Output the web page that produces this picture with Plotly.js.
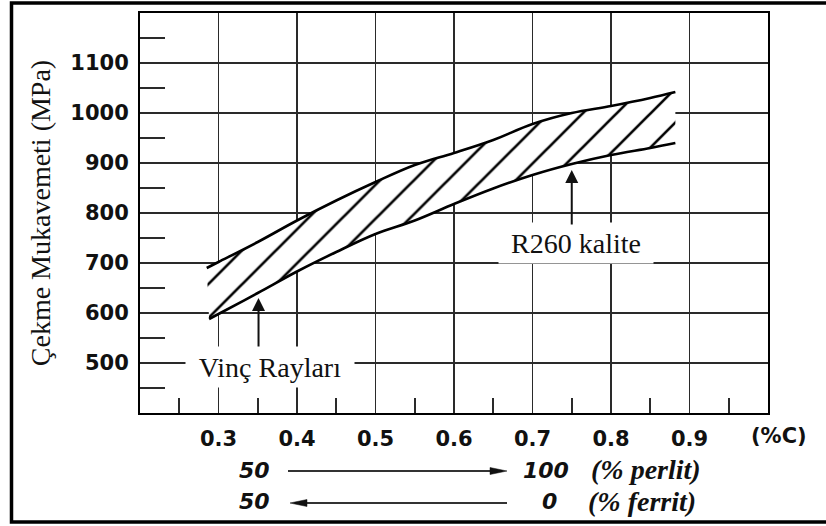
<!DOCTYPE html>
<html>
<head>
<meta charset="utf-8">
<script src="https://cdn.plot.ly/plotly-3.0.1.min.js"></script>
<style>html,body{margin:0;padding:0;background:#fff;}#chart{width:826px;height:526px;}</style>
</head>
<body>
<div id="chart"></div>
<script>
// ---- data ----
const upperX = [0.285, 0.30, 0.35, 0.40, 0.45, 0.50, 0.55, 0.60, 0.65, 0.70, 0.75, 0.80, 0.85, 0.882];
const upperY = [690, 702, 742, 785, 825, 862, 896, 920, 946, 978, 1000, 1014, 1030, 1042];
const lowerX = [0.288, 0.30, 0.35, 0.40, 0.45, 0.50, 0.55, 0.60, 0.65, 0.70, 0.75, 0.80, 0.85, 0.882];
const lowerY = [588, 598, 640, 683, 722, 758, 785, 818, 849, 876, 898, 916, 930, 940];
const xTickVals = [0.3, 0.4, 0.5, 0.6, 0.7, 0.8, 0.9];
const xTickText = ['0.3', '0.4', '0.5', '0.6', '0.7', '0.8', '0.9'];
const xMinorVals = [0.25, 0.35, 0.45, 0.55, 0.65, 0.75, 0.85, 0.95];
const yTickVals = [500, 600, 700, 800, 900, 1000, 1100];
const yTickText = ['500', '600', '700', '800', '900', '1000', '1100'];
const yMinorVals = [450, 550, 650, 750, 850, 950, 1050, 1150];
const perlitRow = ['50', '100', '(% perlit)'];
const ferritRow = ['50', '0', '(% ferrit)'];
const vincLabel = 'Vinç Rayları';
const vincPoint = [0.351, 630];
const r260Label = 'R260 kalite';
const r260Point = [0.750, 886];

// ---- layout geometry ----
const W = 826, H = 526;
const M = {l: 140, r: 58, t: 13, b: 113};
const PW = W - M.l - M.r, PH = H - M.t - M.b;
const px = x => (x - M.l) / PW;      // pixel -> paper x
const py = y => (M.t + PH - y) / PH; // pixel -> paper y

const ink = '#111';
const sansBold = {family: 'DejaVu Sans', size: 21, color: ink, weight: 'bold'};
const sansBI = {family: 'DejaVu Sans', size: 22, color: ink, weight: 'bold', style: 'italic'};
const serifBI = {family: 'Liberation Serif, Times New Roman, serif', size: 28, color: ink, weight: 'bold', style: 'italic'};

const band = {
  x: upperX.concat(lowerX.slice().reverse()),
  y: upperY.concat(lowerY.slice().reverse()),
  type: 'scatter', mode: 'lines', fill: 'toself',
  fillcolor: 'white',
  fillpattern: {shape: '/', bgcolor: 'white', fgcolor: '#000', size: 24, solidity: 0.11},
  line: {width: 0, color: 'rgba(0,0,0,0)'},
  hoverinfo: 'skip', showlegend: false
};
const upper = {x: upperX, y: upperY, type: 'scatter', mode: 'lines',
  line: {color: '#000', width: 2.6, shape: 'spline'}, showlegend: false};
const lower = {x: lowerX, y: lowerY, type: 'scatter', mode: 'lines',
  line: {color: '#000', width: 2.6, shape: 'spline'}, showlegend: false};

const serif = (size, extra) => Object.assign({family: 'Liberation Serif', size: size, color: ink}, extra || {});

const paperText = (text, xp, yp, font) => ({
  text: text, x: px(xp), y: py(yp), xref: 'paper', yref: 'paper', showarrow: false,
  xanchor: 'center', yanchor: 'middle', font: font
});

const annotations = [
  {text: vincLabel, x: 0.365, y: 492, xref: 'x', yref: 'y', showarrow: false,
   xanchor: 'center', yanchor: 'middle',
   font: serif(28), bgcolor: 'white', width: 160, height: 32, borderpad: 4},
  {text: r260Label, x: 0.7556, y: 740, xref: 'x', yref: 'y', showarrow: false,
   xanchor: 'center', yanchor: 'middle',
   font: serif(28), bgcolor: 'white', width: 146, height: 32, borderpad: 4},
  {text: '', x: vincPoint[0], y: vincPoint[1], xref: 'x', yref: 'y', showarrow: true,
   ax: 0, ay: 50, arrowhead: 2, arrowsize: 1.3, arrowwidth: 2, arrowcolor: '#111'},
  {text: '', x: r260Point[0], y: r260Point[1], xref: 'x', yref: 'y', showarrow: true,
   ax: 0, ay: 56, arrowhead: 2, arrowsize: 1.3, arrowwidth: 2, arrowcolor: '#111'},
  paperText('(%C)', 779, 436, sansBold),
  paperText(perlitRow[0], 254, 470, sansBI),
  paperText(perlitRow[1], 546, 470, sansBI),
  paperText(perlitRow[2], 646, 469, serifBI),
  paperText(ferritRow[0], 254, 502, sansBI),
  paperText(ferritRow[1], 549, 502, sansBI),
  paperText(ferritRow[2], 642, 501, serifBI)
];

const arrowCol = '#333';
const shapes = [
  // outer frame
  {type: 'rect', xref: 'paper', yref: 'paper', x0: px(11.5), x1: px(832), y0: py(522), y1: py(3),
   line: {color: '#000', width: 3.5}, fillcolor: 'rgba(0,0,0,0)'},
  // perlit arrow (right)
  {type: 'line', xref: 'paper', yref: 'paper', x0: px(288), x1: px(494), y0: py(471), y1: py(471),
   line: {color: arrowCol, width: 2}},
  {type: 'path', xref: 'paper', yref: 'paper', fillcolor: '#111', line: {color: '#111', width: 0.5},
   path: 'M' + px(490) + ',' + py(467.5) + ' L' + px(507) + ',' + py(471) + ' L' + px(490) + ',' + py(474.5) + ' Z'},
  // ferrit arrow (left)
  {type: 'line', xref: 'paper', yref: 'paper', x0: px(303), x1: px(507), y0: py(503), y1: py(503),
   line: {color: arrowCol, width: 2}},
  {type: 'path', xref: 'paper', yref: 'paper', fillcolor: '#111', line: {color: '#111', width: 0.5},
   path: 'M' + px(307) + ',' + py(499.5) + ' L' + px(290) + ',' + py(503) + ' L' + px(307) + ',' + py(506.5) + ' Z'}
];

const gridCol = '#2a2a2a';
const layout = {
  width: W, height: H,
  margin: M,
  paper_bgcolor: 'white', plot_bgcolor: 'white',
  showlegend: false,
  xaxis: {
    range: [0.2, 1.0], tickmode: 'array', tickvals: xTickVals, ticktext: xTickText,
    ticks: '', showgrid: true, gridcolor: gridCol, gridwidth: 1.8,
    showline: true, linecolor: '#000', linewidth: 2, mirror: true,
    zeroline: false, tickfont: sansBold, ticklabelstandoff: 6,
    minor: {tickmode: 'array', tickvals: xMinorVals, ticks: 'inside', ticklen: 15,
            tickwidth: 2, tickcolor: gridCol, showgrid: false},
    fixedrange: true
  },
  yaxis: {
    range: [400, 1200], tickmode: 'array', tickvals: yTickVals, ticktext: yTickText,
    ticks: '', showgrid: true, gridcolor: gridCol, gridwidth: 1.8,
    showline: true, linecolor: '#000', linewidth: 2, mirror: true,
    zeroline: false, tickfont: sansBold, ticklabelstandoff: 5,
    minor: {tickmode: 'array', tickvals: yMinorVals, ticks: 'inside', ticklen: 25,
            tickwidth: 2, tickcolor: gridCol, showgrid: false},
    title: {text: 'Çekme Mukavemeti (MPa)', font: serif(28), standoff: 12},
    fixedrange: true
  },
  annotations: annotations,
  shapes: shapes
};

Plotly.newPlot('chart', [band, upper, lower], layout, {displayModeBar: false, staticPlot: true});
</script>
</body>
</html>
